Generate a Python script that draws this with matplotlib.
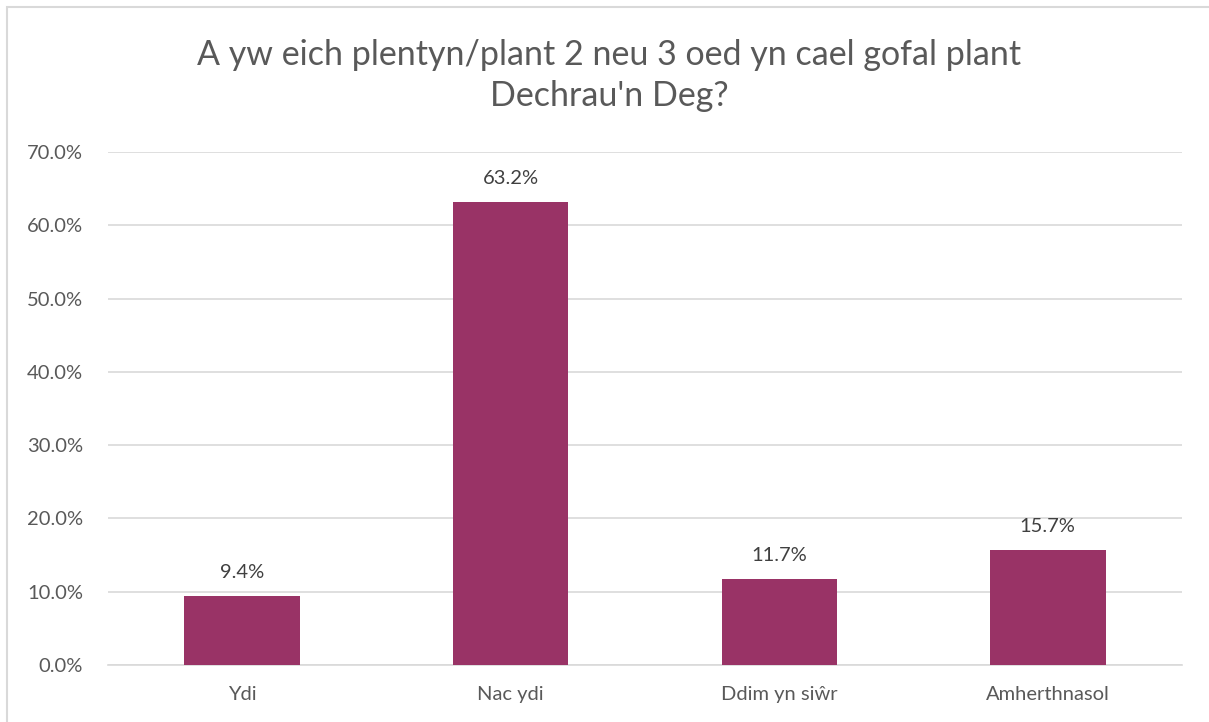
import matplotlib.pyplot as plt
from matplotlib.patches import Rectangle
from matplotlib.ticker import FuncFormatter, MultipleLocator

categories = ["Ydi", "Nac ydi", "Ddim yn siŵr", "Amherthnasol"]
values = [9.4, 63.2, 11.7, 15.7]
title = "A yw eich plentyn/plant 2 neu 3 oed yn cael gofal plant\nDechrau'n Deg?"

plt.rcParams['font.family'] = ['Lato', 'DejaVu Sans']
text_col = "#595959"
bar_col = "#993366"
grid_col = "#d9d9d9"

fig = plt.figure(figsize=(12.09, 7.22), dpi=100)
ax = fig.add_axes([0.0893, 0.0789, 0.8884, 0.7106])

# outer chart border (light grey)
fig.patches.append(Rectangle((7 / 1209, -0.01), 1.02, 1 - 7 / 722 + 0.01,
                             transform=fig.transFigure, fill=False,
                             edgecolor=grid_col, linewidth=1.5))

x = range(len(categories))
ax.bar(x, values, width=0.43, color=bar_col, zorder=3)
for xi, v in zip(x, values):
    ax.annotate(f"{v:.1f}%", (xi, v), xytext=(0, 11), textcoords="offset points",
                ha="center", va="bottom", fontsize=14.5, color="#404040")

ax.set_xlim(-0.5, len(categories) - 0.5)
ax.set_ylim(0, 70)
ax.yaxis.set_major_locator(MultipleLocator(10))
ax.yaxis.set_major_formatter(FuncFormatter(lambda v, p: f"{v:.1f}%"))
ax.set_xticks(list(x))
ax.set_xticklabels(categories)
ax.grid(axis="y", color=grid_col, linewidth=1.2, zorder=0)
ax.tick_params(axis="both", length=0, labelsize=14.5, labelcolor=text_col)
ax.tick_params(axis="y", pad=18)
ax.tick_params(axis="x", pad=15)
for s in ["top", "right", "left"]:
    ax.spines[s].set_visible(False)
ax.spines["bottom"].set_color(grid_col)
ax.spines["bottom"].set_linewidth(1.2)

fig.text(0.504, 0.895, title, ha="center", va="center", fontsize=24.5,
         color=text_col, linespacing=1.35)

fig.savefig("out.png", dpi=100)
